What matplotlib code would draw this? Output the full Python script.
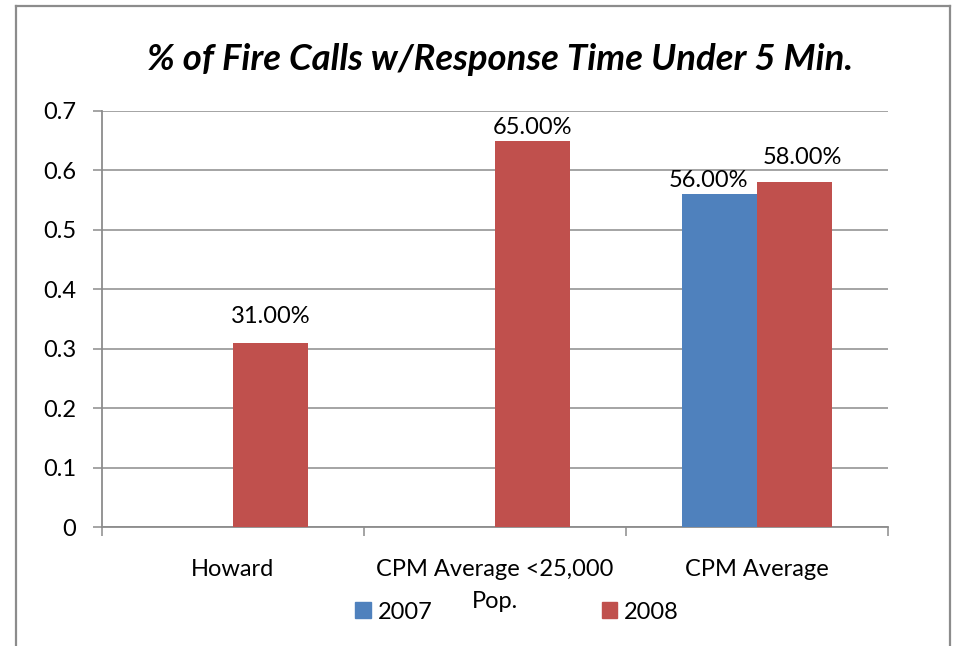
import numpy as np
import matplotlib
matplotlib.use("Agg")
import matplotlib.pyplot as plt
from matplotlib.lines import Line2D
from matplotlib.patches import Patch

plt.rcParams['font.family'] = ['Lato', 'DejaVu Sans']

# chart data (category names already split into the lines Excel wrapped them to)
category_lines = [["Howard"], ["CPM Average <25,000", "Pop."], ["CPM Average"]]
series_names = ["2007", "2008"]
values_2007 = [np.nan, np.nan, 0.56]
values_2008 = [0.31, 0.65, 0.58]
labels_2007 = ["", "", "56.00%"]
labels_2008 = ["31.00%", "65.00%", "58.00%"]
y_ticks = [0, 0.1, 0.2, 0.3, 0.4, 0.5, 0.6, 0.7]
y_tick_labels = ["0", "0.1", "0.2", "0.3", "0.4", "0.5", "0.6", "0.7"]
title = "% of Fire Calls w/Response Time Under 5 Min."

# label nudges (points), mimicking where Excel put them
offsets_2007 = [(0, 5), (0, 5), (-8, 5)]
offsets_2008 = [(0, 14.5), (0, 4.5), (6, 13.5)]

BLUE = "#4F81BD"
RED = "#C0504D"
GRAY = "#8C8C8C"
FS = 17


def draw_chart():
    fig = plt.figure(figsize=(9.54, 6.46), dpi=100)
    ax = fig.add_axes([0.1069, 0.1842, 0.8239, 0.644])

    x = np.arange(len(category_lines))
    w = 0.286
    b07 = ax.bar(x - w / 2, values_2007, w, color=BLUE, zorder=3)
    b08 = ax.bar(x + w / 2, values_2008, w, color=RED, zorder=3)

    for bars, labels, offs in [(b07, labels_2007, offsets_2007), (b08, labels_2008, offsets_2008)]:
        for rect, lab, off in zip(bars, labels, offs):
            if not lab:
                continue
            ax.annotate(lab, (rect.get_x() + rect.get_width() / 2, rect.get_height()),
                        xytext=off, textcoords="offset points",
                        ha="center", va="baseline", fontsize=FS, zorder=4)

    ax.set_xlim(-0.5, len(category_lines) - 0.5)
    ax.set_ylim(0, 0.7)
    ax.set_yticks(y_ticks)
    ax.set_yticklabels(y_tick_labels)
    ax.grid(axis="y", color=GRAY, linewidth=1.1, zorder=0)

    # boundary ticks as major, category names as minor
    ax.set_xticks(np.arange(-0.5, len(category_lines), 1.0))
    ax.set_xticklabels([])
    ax.set_xticks(x, minor=True)
    ax.set_xticklabels([lines[0] for lines in category_lines], minor=True, fontsize=FS)
    ax.tick_params(axis="x", which="minor", length=0, pad=23)
    ax.tick_params(axis="x", which="major", direction="out", length=6.5, color=GRAY, width=1.1)
    ax.tick_params(axis="y", direction="out", length=6.5, color=GRAY, width=1.1,
                   labelsize=FS, pad=12)

    # wrapped continuation lines of the category names
    for xi, lines in zip(x, category_lines):
        for k, line in enumerate(lines[1:], start=1):
            ax.annotate(line, (xi, 0), xycoords=("data", "axes fraction"),
                        xytext=(0, -36 - 22.3 * k), textcoords="offset points",
                        ha="center", va="baseline", fontsize=FS, annotation_clip=False)

    for side in ["top", "right"]:
        ax.spines[side].set_visible(False)
    for side in ["left", "bottom"]:
        ax.spines[side].set_color(GRAY)
        ax.spines[side].set_linewidth(1.3)

    fig.text(0.524, 0.8916, title, ha="center", va="baseline",
             fontsize=26.3, fontweight="bold", fontstyle="italic")

    # legend entries sit either side of the wrapped "Pop." label, so draw them apart
    for name, color, cx in zip(series_names, [BLUE, RED], [0.413, 0.671]):
        fig.legend([Patch(color=color)], [name], loc="center", bbox_to_anchor=(cx, 0.0526),
                   frameon=False, fontsize=FS, handlelength=0.65, handleheight=0.65,
                   handletextpad=0.3, borderpad=0)

    # outer chart border
    fig.add_artist(Line2D([16 / 954, 950 / 954], [1 - 6 / 646, 1 - 6 / 646],
                          color=GRAY, linewidth=1.6, transform=fig.transFigure))
    fig.add_artist(Line2D([16 / 954, 16 / 954], [0, 1 - 6 / 646],
                          color=GRAY, linewidth=1.6, transform=fig.transFigure))
    fig.add_artist(Line2D([950 / 954, 950 / 954], [0, 1 - 6 / 646],
                          color=GRAY, linewidth=1.6, transform=fig.transFigure))

    fig.savefig("out.png", dpi=100)


def main():
    draw_chart()


if __name__ == "__main__":
    main()
